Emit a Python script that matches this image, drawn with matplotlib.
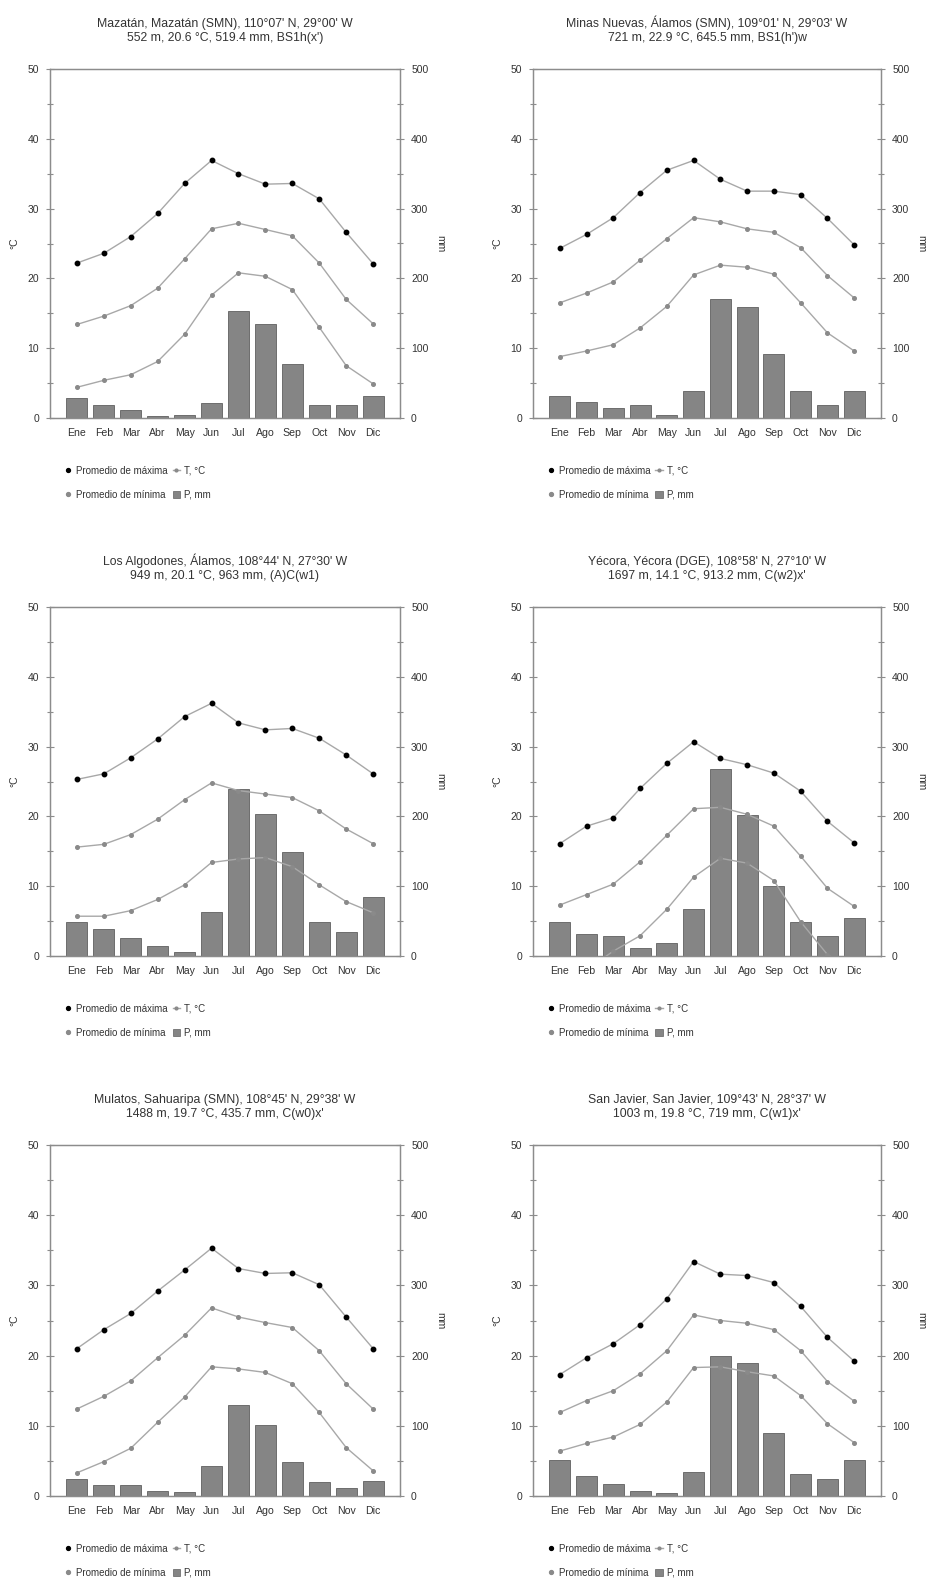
import numpy as np
import matplotlib.pyplot as plt
from matplotlib.lines import Line2D
from matplotlib.patches import Patch

plt.rcParams['font.family'] = ['Liberation Sans', 'DejaVu Sans']

meses = ['Ene', 'Feb', 'Mar', 'Abr', 'May', 'Jun', 'Jul', 'Ago', 'Sep', 'Oct', 'Nov', 'Dic']

titulos = [
    "Mazatán, Mazatán (SMN), 110°07' N, 29°00' W\n552 m, 20.6 °C, 519.4 mm, BS1h(x')",
    "Minas Nuevas, Álamos (SMN), 109°01' N, 29°03' W\n721 m, 22.9 °C, 645.5 mm, BS1(h')w",
    "Los Algodones, Álamos, 108°44' N, 27°30' W\n949 m, 20.1 °C, 963 mm, (A)C(w1)",
    "Yécora, Yécora (DGE), 108°58' N, 27°10' W\n1697 m, 14.1 °C, 913.2 mm, C(w2)x'",
    "Mulatos, Sahuaripa (SMN), 108°45' N, 29°38' W\n1488 m, 19.7 °C, 435.7 mm, C(w0)x'",
    "San Javier, San Javier, 109°43' N, 28°37' W\n1003 m, 19.8 °C, 719 mm, C(w1)x'",
]

# promedio de máxima (°C)
t_max = [
    [22.2, 23.6, 26.0, 29.3, 33.6, 36.9, 35.0, 33.5, 33.6, 31.4, 26.6, 22.1],
    [24.3, 26.3, 28.7, 32.3, 35.5, 36.9, 34.2, 32.5, 32.5, 32.0, 28.6, 24.8],
    [25.3, 26.1, 28.4, 31.1, 34.3, 36.2, 33.4, 32.4, 32.6, 31.2, 28.8, 26.1],
    [16.1, 18.6, 19.8, 24.0, 27.6, 30.7, 28.3, 27.4, 26.2, 23.6, 19.3, 16.2],
    [21.0, 23.7, 26.0, 29.2, 32.2, 35.3, 32.4, 31.7, 31.8, 30.1, 25.5, 21.0],
    [17.3, 19.7, 21.7, 24.4, 28.1, 33.4, 31.6, 31.4, 30.4, 27.0, 22.6, 19.2],
]
# temperatura media (°C)
t_med = [
    [13.4, 14.6, 16.1, 18.6, 22.8, 27.1, 27.9, 27.0, 26.1, 22.2, 17.0, 13.5],
    [16.5, 17.9, 19.5, 22.6, 25.7, 28.7, 28.1, 27.1, 26.6, 24.4, 20.4, 17.2],
    [15.6, 16.0, 17.4, 19.6, 22.4, 24.8, 23.7, 23.2, 22.7, 20.8, 18.2, 16.1],
    [7.3, 8.8, 10.3, 13.5, 17.3, 21.1, 21.3, 20.3, 18.6, 14.3, 9.7, 7.1],
    [12.4, 14.2, 16.4, 19.7, 22.9, 26.8, 25.5, 24.7, 24.0, 20.7, 16.0, 12.4],
    [11.9, 13.6, 15.0, 17.4, 20.7, 25.8, 25.0, 24.6, 23.7, 20.7, 16.3, 13.5],
]
# promedio de mínima (°C)
t_min = [
    [4.4, 5.4, 6.2, 8.1, 12.0, 17.6, 20.8, 20.3, 18.4, 13.0, 7.5, 4.9],
    [8.8, 9.6, 10.5, 12.9, 16.0, 20.5, 21.9, 21.6, 20.6, 16.5, 12.2, 9.6],
    [5.7, 5.7, 6.5, 8.1, 10.2, 13.4, 13.9, 14.1, 12.8, 10.2, 7.8, 6.2],
    [-3.0, -2.0, 0.7, 2.9, 6.7, 11.3, 14.0, 13.3, 10.8, 4.9, 0.2, -2.5],
    [3.3, 4.9, 6.8, 10.5, 14.1, 18.4, 18.1, 17.6, 16.0, 11.9, 6.9, 3.6],
    [6.4, 7.5, 8.4, 10.2, 13.4, 18.3, 18.4, 17.7, 17.1, 14.3, 10.3, 7.6],
]
# precipitación (mm)
precip = [
    [28.7, 19, 12, 2.5, 4, 21.5, 153, 135, 78, 18, 18, 31.5],
    [31.5, 23, 15, 19, 4, 39, 170, 159, 92, 39, 19, 39],
    [49, 39, 26, 14, 6, 63, 239, 204, 149, 49, 35, 84],
    [49, 31, 29, 11.5, 18, 67, 268, 202, 101, 48, 29, 55],
    [24, 16, 16, 7, 6, 43, 130, 101, 49, 20, 12, 22],
    [51, 28, 17, 7, 4, 34, 200, 190, 90, 31, 24, 51],
]

W, H = 927, 1581
fig = plt.figure(figsize=(W / 100, H / 100), dpi=100)

col_x = [(50, 400), (533, 881)]
row_y = [(69, 418), (607, 956), (1145, 1496)]

gris_eje = '#8c8c8c'
gris_linea = '#a8a8a8'
gris_barra = '#858585'
texto = '#333333'
x = np.arange(12)

for i in range(6):
    r, c = divmod(i, 2)
    x0, x1 = col_x[c]
    y0, y1 = row_y[r]
    ax = fig.add_axes([x0 / W, 1 - y1 / H, (x1 - x0) / W, (y1 - y0) / H])
    ax2 = ax.twinx()
    ax.set_zorder(ax2.get_zorder() + 1)
    ax.patch.set_visible(False)

    ax2.bar(x, precip[i], width=0.78, color=gris_barra, edgecolor='#606060', linewidth=0.6)
    ax2.set_ylim(0, 500)

    ax.plot(x, t_max[i], color=gris_linea, lw=1.0, marker='o', ms=3.2,
            mfc='black', mec='black', zorder=4)
    ax.plot(x, t_med[i], color=gris_linea, lw=1.0, marker='o', ms=2.6,
            mfc='#8a8a8a', mec='#8a8a8a', zorder=3)
    ax.plot(x, t_min[i], color=gris_linea, lw=1.0, marker='o', ms=2.6,
            mfc='#8a8a8a', mec='#8a8a8a', zorder=3)
    ax.set_ylim(0, 50)
    ax.set_xlim(-1, 12)
    ax.set_xticks(x)
    ax.set_xticklabels(meses)

    ax.set_yticks(np.arange(0, 51, 10))
    ax.set_yticks(np.arange(5, 50, 10), minor=True)
    ax2.set_yticks(np.arange(0, 501, 100))
    ax2.set_yticks(np.arange(50, 500, 100), minor=True)

    for a in (ax, ax2):
        for s in a.spines.values():
            s.set_color(gris_eje)
            s.set_linewidth(0.9)
        a.tick_params(axis='y', which='major', direction='inout', length=6,
                      width=0.8, color=gris_eje, labelsize=7.5, labelcolor=texto, pad=5)
        a.tick_params(axis='y', which='minor', direction='inout', length=5,
                      width=0.8, color=gris_eje)
    ax.tick_params(axis='x', length=0, labelsize=7.6, labelcolor=texto, pad=7)

    ax.set_ylabel('°C', fontsize=7.5, color=texto, labelpad=6)
    ax2.set_ylabel('mm', fontsize=7.5, color=texto, rotation=270, labelpad=12)

    ax.set_title(titulos[i], fontsize=8.8, color=texto, pad=20, linespacing=1.3)

    handles = [
        Line2D([], [], ls='none', marker='o', ms=2.8, mfc='black', mec='black'),
        Line2D([], [], ls='none', marker='o', ms=2.8, mfc='#8a8a8a', mec='#8a8a8a'),
        Line2D([], [], color=gris_linea, lw=1.0, marker='o', ms=2, mfc='#8a8a8a', mec='#8a8a8a'),
        Patch(facecolor=gris_barra, edgecolor='#606060', linewidth=0.5),
    ]
    labels = ['Promedio de máxima', 'Promedio de mínima', 'T, °C', 'P, mm']
    ax.legend(handles, labels, ncol=2, frameon=False, fontsize=7,
              loc='upper left', bbox_to_anchor=(0.03, -0.125),
              handlelength=0.8, handletextpad=0.4, columnspacing=0.5,
              labelspacing=1.45, borderaxespad=0, labelcolor=texto)

fig.savefig('out.png', dpi=100, facecolor='white')
